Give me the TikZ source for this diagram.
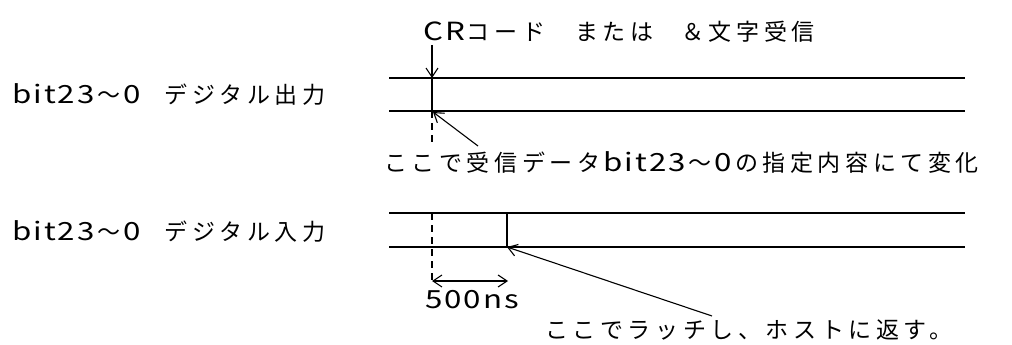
\documentclass[tikz,border=0pt]{standalone}
\usepackage{fontspec}
\newfontfamily\jp[LetterSpace=20]{Noto Sans CJK JP}
\newfontfamily\lat[LetterSpace=8,FakeStretch=1.25]{Noto Sans CJK JP}
\newcommand{\la}[1]{{\lat\fontsize{25}{28}\selectfont #1}}
\newcommand{\wave}{\hspace{3pt}〜\hspace{3pt}}
\usetikzlibrary{arrows.meta}
\begin{document}
\begin{tikzpicture}[x=1pt,y=-1pt,
  sig/.style={line width=1.6pt},
  pointer/.style={line width=1.1pt,-{Straight Barb[length=9pt,width=12pt]}},
  lbl/.style={font=\jp\fontsize{23}{28}\selectfont,inner sep=0pt,anchor=west},
  dashline/.style={line width=1.6pt,dash pattern=on 7pt off 5pt}]
\useasboundingbox (0,0) rectangle (1012,345);
% labels
\node[lbl] (top) at (423,32) {\la{CR}\hspace{2pt}コード\hspace{30pt}または\hspace{28pt}＆文字受信};
\node[lbl] (outl) at (12,95) {\la{bit23}\wave\la{0}\hspace{24pt}デジタル出力};
\node[lbl] (inl) at (12,232) {\la{bit23}\wave\la{0}\hspace{24pt}デジタル入力};
\node[lbl] (chg) at (384,163) {ここで受信データ\hspace{3pt}\la{bit23}\wave\la{0}\hspace{3pt}の指定内容にて変化};
\node[lbl] (ns) at (425,300) {\la{500ns}};
\node[lbl] (latch) at (545,330) {ここでラッチし、ホストに返す。};
% output lines
\coordinate (o1a) at (389,78); \coordinate (o1b) at (965,78);
\coordinate (o2a) at (389,111); \coordinate (o2b) at (965,111);
\draw[sig] (o1a) -- (o1b);
\draw[sig] (o2a) -- (o2b);
\coordinate (cTop) at (432,45); \coordinate (cHi) at (432,78); \coordinate (cLo) at (432,111);
\draw[pointer] (cTop) -- (cHi);
\draw[sig] (cHi) -- (cLo);
\coordinate (cDashEnd) at (432,142);
\draw[dashline] (cLo) -- (cDashEnd);
\coordinate (p1) at (478,146);
\draw[pointer] (p1) -- (433,112);
% input lines
\coordinate (i1a) at (389,213); \coordinate (i1b) at (965,213);
\coordinate (i2a) at (389,247); \coordinate (i2b) at (965,247);
\draw[sig] (i1a) -- (i1b);
\draw[sig] (i2a) -- (i2b);
\coordinate (lHi) at (507,213); \coordinate (lLo) at (507,247);
\draw[sig] (lHi) -- (lLo);
\coordinate (dTop) at (432,213); \coordinate (dBot) at (432,283);
\draw[dashline] (dTop) -- (dBot);
\coordinate (mA) at (432,281); \coordinate (mB) at (508,281);
\draw[line width=1.1pt,{Straight Barb[length=9pt,width=12pt]}-{Straight Barb[length=9pt,width=12pt]}] (mA) -- (mB);
\coordinate (p2) at (712,316);
\draw[pointer] (p2) -- (lLo);
\end{tikzpicture}
\end{document}
